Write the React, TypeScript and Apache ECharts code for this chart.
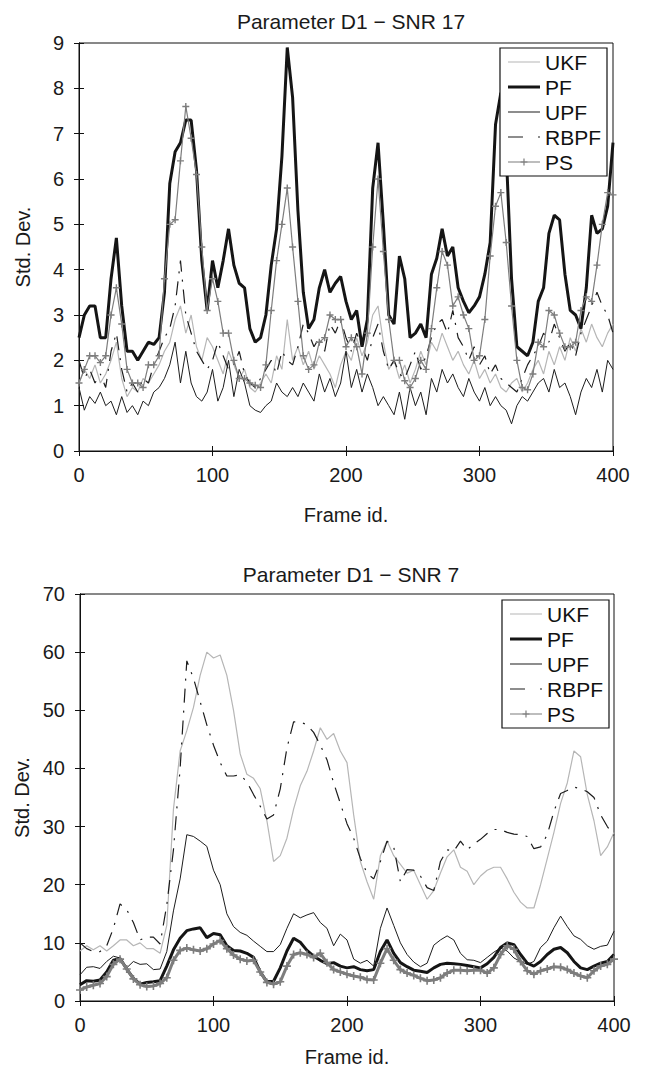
import React, { useEffect, useRef } from "react";
import * as echarts from "echarts";

const FONT = "'Liberation Sans', Arial, Helvetica, sans-serif";
const SERIES_NAMES = ["UKF", "PF", "UPF", "RBPF", "PS"];
const TITLE_TOP = "Parameter D1 − SNR 17";
const TITLE_BOTTOM = "Parameter D1 − SNR 7";
const X_NAME = "Frame id.";
const Y_NAME = "Std. Dev.";

// Frame ids at which values were read (top: every 4 frames, bottom: every 5 frames)
const TOP_FRAMES = Array.from({ length: 101 }, (_, i) => i * 4);
const BOT_FRAMES = Array.from({ length: 81 }, (_, i) => i * 5);

// ---------- Top panel: SNR 17 ----------
const TOP_UKF = [
  1.5, 1.8, 1.6, 1.9, 1.5, 1.7, 2.0, 2.4, 1.6, 1.2,
  1.4, 1.3, 1.6, 1.5, 1.7, 1.9, 2.2, 2.4, 2.9, 3.2,
  2.6, 3.0, 2.3, 2.0, 2.5, 2.3, 2.0, 1.7, 2.2, 1.9,
  1.6, 1.8, 1.4, 1.3, 1.5, 1.7, 1.5, 2.1, 1.8, 2.9,
  2.0, 2.3, 1.9, 2.2, 1.8, 2.1, 1.9, 1.7, 1.4, 1.9,
  2.2, 2.0, 2.5, 2.1, 2.4, 3.0, 3.2, 2.4, 1.8, 2.0,
  1.6, 1.9, 1.5, 1.8, 2.2, 1.9, 2.4, 2.2, 2.6, 2.3,
  2.0, 2.2, 1.9, 1.7, 2.0, 1.6, 1.8, 1.5, 1.7, 1.4,
  1.3, 1.5, 1.6, 1.3, 1.5, 1.8, 2.0, 1.7, 2.2, 1.9,
  2.3, 2.0, 2.5, 2.2, 2.7, 2.4, 2.8, 2.5, 2.3, 2.6,
  2.8,
];
const TOP_PF = [
  2.5, 3.0, 3.2, 3.2, 2.5, 2.5, 3.8, 4.7, 3.2, 2.2,
  2.2, 2.0, 2.2, 2.4, 2.35, 2.5, 3.5, 5.9, 6.6, 6.8,
  7.3, 7.3, 6.2, 4.2, 3.1, 4.2, 3.6, 4.2, 4.9, 4.1,
  3.7, 3.6, 2.7, 2.4, 2.5, 3.0, 4.1, 4.9, 6.5, 8.9,
  7.8, 5.3, 3.5, 2.7, 2.9, 3.6, 4.0, 3.5, 3.7, 3.85,
  3.3, 2.9, 3.1, 2.3, 2.9, 5.8, 6.8, 5.0, 3.0, 2.8,
  4.3, 3.8, 2.5, 2.6, 2.8, 2.5, 3.9, 4.25, 4.9, 4.3,
  4.5, 3.6, 3.3, 3.05, 3.2, 3.4, 3.9, 4.6, 7.2, 7.9,
  6.6, 3.8, 2.3, 2.2, 2.1, 2.4, 3.3, 3.6, 4.8, 5.2,
  5.1, 3.9, 3.1, 3.0, 2.7, 3.6, 5.2, 4.8, 4.9, 5.4,
  6.8,
];
const TOP_UPF = [
  1.4, 0.9, 1.2, 1.05, 1.3, 1.0, 1.1, 0.8, 1.2, 0.85,
  1.0, 0.8, 1.1, 1.0, 1.3, 1.4, 1.6, 1.9, 2.4, 1.5,
  2.2, 1.5, 1.2, 1.1, 1.3, 1.8, 1.1, 1.4, 2.0, 1.2,
  1.8, 1.5, 1.0, 0.9, 0.85, 1.0, 1.1, 1.5, 1.3, 1.2,
  1.4, 1.2, 1.5, 1.3, 1.1, 1.7, 1.3, 1.6, 1.2, 1.5,
  2.2, 1.4, 1.8, 1.3, 1.7, 1.4, 1.0, 1.2, 1.0, 0.8,
  1.3, 0.7, 1.4, 1.0, 1.3, 0.8, 1.6, 1.3, 1.8, 1.5,
  1.7, 1.4, 1.2, 1.6, 1.3, 1.1, 1.4, 1.0, 1.2, 1.0,
  0.9, 0.6, 1.0, 1.2, 1.1, 1.3, 1.5, 1.6, 1.3, 1.8,
  1.4, 1.5, 1.2, 0.8, 1.3, 1.6, 1.4, 1.8, 1.3, 2.0,
  1.8,
];
const TOP_RBPF = [
  2.0, 1.6, 1.8, 1.5, 1.7, 1.4, 2.2, 2.6, 1.8, 1.3,
  1.5, 1.3, 1.6, 1.5, 1.9, 2.2, 2.5, 2.7, 3.2, 4.2,
  3.0, 2.6, 2.2, 2.0, 1.8, 2.0, 2.4, 2.1, 1.8, 1.9,
  2.2, 1.7, 1.5, 1.4, 1.6, 1.8, 2.0, 1.7, 2.2, 2.0,
  1.9, 2.3, 2.8, 2.6, 2.3, 2.5, 2.2, 2.8, 2.6, 2.9,
  2.5, 2.2, 2.6, 2.3, 2.0, 2.5, 2.8, 2.2, 1.8, 2.0,
  1.7, 1.6, 1.9, 2.2, 1.8, 2.1, 2.5, 2.8, 2.9, 2.6,
  3.1, 2.5, 2.3, 2.0, 2.3, 1.9, 2.1, 1.7, 1.9, 1.6,
  1.5, 1.4, 1.3, 1.6, 1.9, 2.1, 2.3, 2.6, 2.4, 2.8,
  2.5, 2.2, 2.4, 2.1, 2.6, 2.9, 3.2, 3.5, 3.2, 3.0,
  2.6,
];
const TOP_PS = [
  1.5, 1.8, 2.1, 2.1, 1.95, 2.1, 3.0, 3.6, 2.8, 1.8,
  1.5, 1.5, 1.4, 1.9, 1.9, 2.1, 3.8, 5.0, 5.1, 6.4,
  7.6, 6.9, 6.1, 4.5, 3.1, 3.8, 3.3, 2.6, 2.6, 2.0,
  1.6, 1.6, 1.5, 1.45, 1.4, 1.9, 3.1, 4.2, 5.0, 5.8,
  4.5, 3.3, 2.1, 1.8, 1.9, 2.4, 2.5, 3.0, 2.9, 2.9,
  2.3, 2.5, 2.3, 1.7, 2.6, 4.5, 6.0, 4.4, 2.9, 2.0,
  2.0, 1.55, 1.4, 1.6, 2.0, 1.8, 2.7, 3.6, 4.4, 4.1,
  3.2, 3.4, 3.0, 2.7, 2.0, 2.1, 2.9, 4.3, 5.4, 5.7,
  4.6, 3.2, 2.0, 1.4, 1.35, 1.7, 2.4, 2.3, 3.1, 3.0,
  2.6, 2.3, 2.3, 2.4, 3.1, 3.4, 3.3, 4.1, 5.0, 5.7,
  5.65,
];

// ---------- Bottom panel: SNR 7 ----------
const BOT_UKF = [
  8.6, 9.5, 8.8, 9.5, 8.6, 9.5, 10.5, 10.5, 9.5, 10.0,
  9.0, 9.0, 8.2, 13, 33, 43, 46.5, 50.5, 56, 60,
  59, 59.5, 56, 50, 42.5, 39, 38.3, 36.5, 31, 24,
  25, 28, 33, 37, 39.5, 43, 47, 45, 46, 43,
  41, 32, 24, 20.5, 17.5, 25, 27.5, 25, 23.5, 22,
  22.5, 20, 17.5, 19, 22, 24.8, 26, 23, 22.3, 20,
  21.5, 22.5, 23, 23, 21, 18.7, 17, 16, 16, 20,
  24.5, 29, 34, 37.5, 43, 42, 35.5, 31, 25, 26.5,
  29,
];
const BOT_PF = [
  2.8, 3.5, 3.4, 3.6, 5.0, 7.0, 7.3, 5.5, 3.9, 2.9,
  3.2, 3.3, 3.5, 6.0, 8.8, 10.8, 12.1, 12.4, 12.6, 10.9,
  11.6, 11.4, 9.5, 8.7, 8.6, 8.2, 7.5, 5.0, 3.3, 3.4,
  5.7, 8.6, 10.8, 10.1, 8.7, 7.7, 7.0, 6.4, 6.6, 6.0,
  5.7, 5.9, 5.4, 5.2, 5.4, 8.5, 10.5, 8.2, 6.6, 5.9,
  5.3, 5.1, 4.9, 5.7, 6.3, 6.5, 6.4, 6.3, 6.1, 5.9,
  5.7, 6.4, 7.5, 9.2, 10, 9.7, 8.0, 6.5, 6.0, 6.8,
  8.0, 8.9, 9.2, 8.3, 6.8, 5.7, 5.4, 6.0, 6.5, 6.8,
  8.0,
];
const BOT_UPF = [
  4.5, 5.8, 5.9, 5.6, 6.8, 7.7, 7.4, 5.7, 6.8, 6.3,
  6.4, 5.4, 5.5, 8.5, 15.5, 21, 28.6, 28.3, 27.5, 26.6,
  22.5, 20, 15, 12.8, 11.8, 11.3, 10.3, 9.4, 8.5, 8.5,
  9.7, 12.5, 15, 14.3, 14.8, 15.2, 13.5, 12.5, 9.5, 11.5,
  10.5, 7.2, 6.5, 7, 6, 12.5, 16, 13, 10, 8,
  6.7, 5.9, 6.5, 9.6, 10.5, 11.2, 10.5, 8.2, 7.1, 7.0,
  6.6, 7.5, 8.4, 9.1, 8.6, 7.4, 6.8, 6.3, 6.8, 9.2,
  10.3, 12.6, 14.6, 12.8, 11.2, 10.6, 9.5, 8.9, 9.4, 9.6,
  12,
];
const BOT_RBPF = [
  10, 9, 8.5, 8.5, 9.5, 12.5, 16.7, 15.7, 13.5, 10.5,
  11, 11, 9.8, 16.5, 26, 40, 58.5, 55.5, 51.5, 47.5,
  44, 41, 38.7, 38.7, 38.9, 37.7, 35.5, 33.5, 31.3, 32,
  36.5, 43.5, 48, 48, 47.5, 46.2, 44, 41.5, 37.5, 34,
  30.5, 28, 24.5, 22, 21, 24, 27.5, 26.5, 20.5, 22.6,
  22.5, 21.5, 19.5, 19, 24, 26, 25.8, 27.5, 26, 27,
  27.8, 28.8, 29.5, 29.5, 29, 28.7, 28.6, 28.3, 26.2, 26.5,
  28.6, 32.6, 35.7, 36.2, 36.8, 36.5, 36, 35, 32, 30,
  28.5,
];
const BOT_PS = [
  1.9, 2.4, 2.7, 3.0, 4.2, 6.3, 7.2, 5.5, 3.8, 2.8,
  2.5, 2.6, 3.0, 4.0, 7.0, 8.7, 9.1, 8.8, 8.6, 9.0,
  9.8, 10.4, 9.0, 7.9, 7.2, 6.9, 7.0, 5.0, 3.2, 2.9,
  3.3, 6.0, 8.0, 8.3, 8.0, 7.5, 8.2, 6.6, 5.4, 5.0,
  4.6, 4.3, 4.1, 3.7, 3.6, 6.5, 9.0, 7.0, 5.4, 4.8,
  4.4, 3.9, 3.5, 3.6, 4.0, 4.8, 5.3, 5.3, 5.2, 5.3,
  5.3, 4.8, 5.7, 8.0, 9.5, 8.9, 6.8, 5.2, 4.6, 5.2,
  5.5, 5.9, 5.8, 5.4, 4.8, 4.3, 4.0, 5.2, 6.0, 6.3,
  7.2,
];

const PLUS = "path://M4,0H6V4H10V6H6V10H4V6H0V4H4Z";
const COLORS: Record<string, string> = { UKF: "#b6b6b6", PF: "#151515", UPF: "#1c1c1c", RBPF: "#1c1c1c", PS: "#7d7d7d" };

// Legend sample icons (32 x 10 box)
const ICONS: Record<string, string> = {
  UKF: "path://M0,4.4H32V5.6H0Z",
  PF: "path://M0,3.5H32V6.5H0Z",
  UPF: "path://M0,4.4H32V5.6H0Z",
  RBPF: "path://M0,4.4H15V5.6H0Z M30,4.4H32V5.6H30Z",
  PS: "path://M0,4.45H32V5.55H0Z M12.5,4.3H19.5V5.7H12.5Z M15.4,1.5H16.6V8.5H15.4Z",
};

function pairs(frames: number[], vals: number[]) {
  return frames.map((f, i) => [f, vals[i]]);
}

function makeSeries(axis: number, frames: number[], sets: number[][], psWidth: number, psSize: number) {
  const [ukf, pf, upf, rbpf, ps] = sets;
  const base = { type: "line", xAxisIndex: axis, yAxisIndex: axis, smooth: false, animation: false };
  return [
    { ...base, name: "UKF", data: pairs(frames, ukf), symbol: "none", lineStyle: { color: COLORS.UKF, width: 1.2 }, itemStyle: { color: COLORS.UKF } },
    { ...base, name: "PF", data: pairs(frames, pf), symbol: "none", lineStyle: { color: COLORS.PF, width: 3 }, itemStyle: { color: COLORS.PF } },
    { ...base, name: "UPF", data: pairs(frames, upf), symbol: "none", lineStyle: { color: COLORS.UPF, width: 1 }, itemStyle: { color: COLORS.UPF } },
    { ...base, name: "RBPF", data: pairs(frames, rbpf), symbol: "none", lineStyle: { color: COLORS.RBPF, width: 1.2, type: [14, 8, 2, 8] }, itemStyle: { color: COLORS.RBPF } },
    { ...base, name: "PS", data: pairs(frames, ps), symbol: PLUS, symbolSize: psSize, showSymbol: true, lineStyle: { color: COLORS.PS, width: psWidth }, itemStyle: { color: COLORS.PS } },
  ];
}

function xAxes(grid: number, nameGap: number) {
  const common = {
    type: "value", gridIndex: grid, min: 0, max: 400, interval: 100,
    splitLine: { show: false },
    axisLine: { show: true, lineStyle: { color: "#111", width: 1 } },
    axisTick: { show: true, inside: true, length: 5, lineStyle: { color: "#111" } },
  };
  return [
    { ...common, position: "bottom", name: X_NAME, nameLocation: "middle", nameGap,
      nameTextStyle: { fontSize: 20, color: "#1a1a1a", fontFamily: FONT },
      axisLabel: { fontSize: 20, color: "#1a1a1a", margin: 14, fontFamily: FONT } },
    { ...common, position: "top", axisLabel: { show: false } },
  ];
}

function yAxes(grid: number, max: number, interval: number, nameGap: number) {
  const common = {
    type: "value", gridIndex: grid, min: 0, max, interval,
    splitLine: { show: false },
    axisLine: { show: true, lineStyle: { color: "#111", width: 1 } },
    axisTick: { show: true, inside: true, length: 5, lineStyle: { color: "#111" } },
  };
  return [
    { ...common, position: "left", name: Y_NAME, nameLocation: "middle", nameGap,
      nameTextStyle: { fontSize: 20, color: "#1a1a1a", fontFamily: FONT },
      axisLabel: { fontSize: 20, color: "#1a1a1a", margin: 15, fontFamily: FONT } },
    { ...common, position: "right", axisLabel: { show: false } },
  ];
}

function legend(right: number, top: number) {
  return {
    orient: "vertical", right, top, selectedMode: false,
    data: SERIES_NAMES.map((n) => ({ name: n, icon: ICONS[n] })),
    itemWidth: 32, itemHeight: 10, itemGap: 1, padding: [2, 6, 2, 8],
    borderColor: "#111", borderWidth: 1.2, backgroundColor: "#fff",
    textStyle: { fontSize: 21, color: "#111", lineHeight: 24, fontFamily: FONT },
  };
}

export default function App() {
  const ref = useRef<HTMLDivElement>(null);
  useEffect(() => {
    document.body.style.margin = "0";
    if (!ref.current) return;
    const chart = echarts.init(ref.current, undefined, { renderer: "svg" });
    const option = {
      animation: false,
      backgroundColor: "#fff",
      textStyle: { fontFamily: FONT },
      title: [
        { text: TITLE_TOP, left: 346, top: 6, textAlign: "center", textStyle: { fontSize: 21, fontWeight: "normal", color: "#1a1a1a", fontFamily: FONT } },
        { text: TITLE_BOTTOM, left: 346, top: 559, textAlign: "center", textStyle: { fontSize: 21, fontWeight: "normal", color: "#1a1a1a", fontFamily: FONT } },
      ],
      legend: [legend(38, 48), legend(36, 600)],
      grid: [
        { left: 79, top: 43, width: 534, height: 408, show: true, borderColor: "#111", borderWidth: 1, backgroundColor: "#fff" },
        { left: 80, top: 594, width: 534, height: 407, show: true, borderColor: "#111", borderWidth: 1, backgroundColor: "#fff" },
      ],
      xAxis: [...xAxes(0, 54), ...xAxes(1, 46)],
      yAxis: [...yAxes(0, 9, 1, 46), ...yAxes(1, 70, 10, 46)],
      series: [
        ...makeSeries(0, TOP_FRAMES, [TOP_UKF, TOP_PF, TOP_UPF, TOP_RBPF, TOP_PS], 1.2, 7),
        ...makeSeries(2, BOT_FRAMES, [BOT_UKF, BOT_PF, BOT_UPF, BOT_RBPF, BOT_PS], 3, 8),
      ],
    };
    chart.setOption(option as any);
    return () => chart.dispose();
  }, []);
  return <div ref={ref} style={{ width: 645, height: 1078 }} />;
}
